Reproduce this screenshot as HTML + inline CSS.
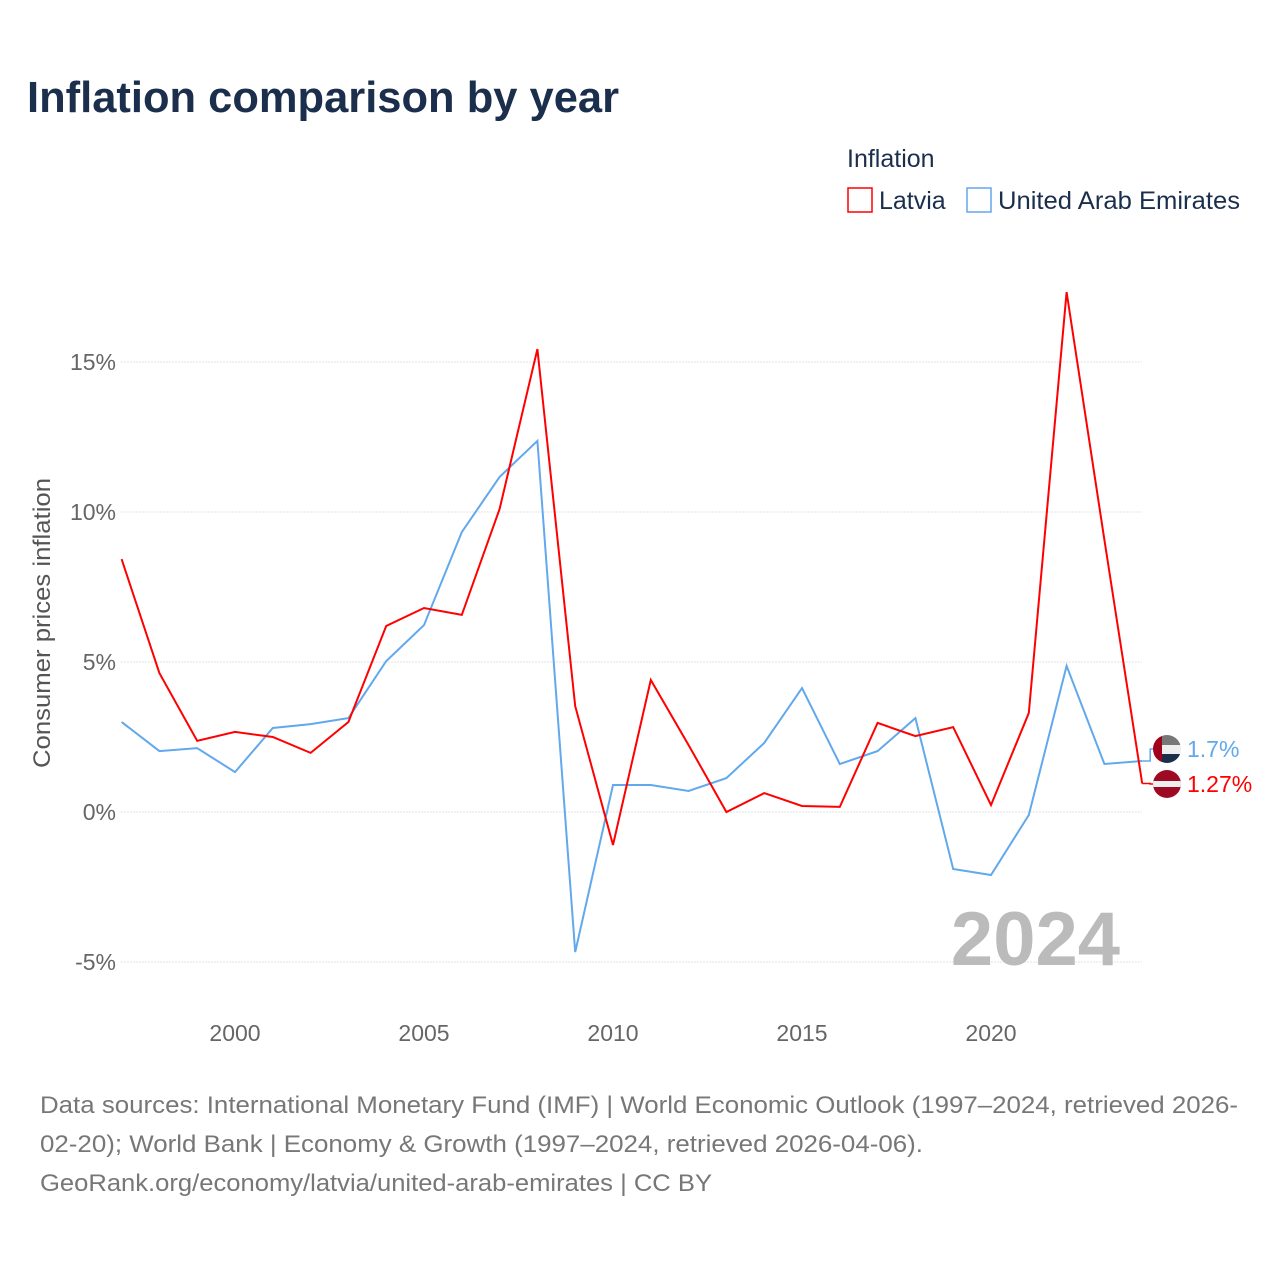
<!DOCTYPE html>
<html><head><meta charset="utf-8"><style>
body{margin:0;background:#fff;font-family:"Liberation Sans",sans-serif;}
</style></head><body>
<svg id="chart" width="1280" height="1280" viewBox="0 0 1280 1280" xmlns="http://www.w3.org/2000/svg" font-family="Liberation Sans, sans-serif">
<rect width="1280" height="1280" fill="#fff"/>
<text x="27" y="112" font-size="44" font-weight="bold" fill="#1b2f4d" textLength="592" lengthAdjust="spacingAndGlyphs">Inflation comparison by year</text>
<text x="847" y="167" font-size="25" fill="#1b2f4d">Inflation</text>
<g><rect x="848" y="188" width="24" height="24" fill="none" stroke="#f00" stroke-width="1.5"/><text x="879" y="209" font-size="25" fill="#1b2f4d">Latvia</text></g>
<g><rect x="967" y="188" width="24" height="24" fill="none" stroke="#61a8ec" stroke-width="1.5"/><text x="998" y="209" font-size="25" fill="#1b2f4d" textLength="242" lengthAdjust="spacingAndGlyphs">United Arab Emirates</text></g>
<text transform="translate(50,623) rotate(-90)" text-anchor="middle" font-size="24" fill="#555" textLength="290" lengthAdjust="spacingAndGlyphs">Consumer prices inflation</text>
<g id="grid"></g><g id="lines"></g>
<text x="1120" y="965" text-anchor="end" font-size="76" font-weight="bold" fill="#bbb">2024</text>
<g><clipPath id="c1"><circle cx="1167" cy="749" r="14"/></clipPath><g clip-path="url(#c1)"><rect x="1153" y="735" width="28" height="10" fill="#777"/><rect x="1153" y="745" width="28" height="9" fill="#eee"/><rect x="1153" y="754" width="28" height="10" fill="#1b2f4d"/><rect x="1153" y="735" width="9" height="28" fill="#a3001c"/></g></g>
<g><clipPath id="c2"><circle cx="1167" cy="784" r="14"/></clipPath><g clip-path="url(#c2)"><rect x="1153" y="770" width="28" height="28" fill="#9e0a24"/><rect x="1153" y="781" width="28" height="6" fill="#eee"/></g></g>
<text x="1187" y="757" font-size="23" fill="#61a8ec">1.7%</text>
<text x="1187" y="792" font-size="23" fill="#f00">1.27%</text>
<g font-size="24" fill="#777">
<text x="40" y="1113" textLength="1198" lengthAdjust="spacingAndGlyphs">Data sources: International Monetary Fund (IMF) | World Economic Outlook (1997–2024, retrieved 2026-</text>
<text x="40" y="1152" textLength="883" lengthAdjust="spacingAndGlyphs">02-20); World Bank | Economy &amp; Growth (1997–2024, retrieved 2026-04-06).</text>
<text x="40" y="1191" textLength="672" lengthAdjust="spacingAndGlyphs">GeoRank.org/economy/latvia/united-arab-emirates | CC BY</text></g>
</svg>
<script>
const years=[1997,1998,1999,2000,2001,2002,2003,2004,2005,2006,2007,2008,2009,2010,2011,2012,2013,2014,2015,2016,2017,2018,2019,2020,2021,2022,2023,2024];
const latvia=[8.43,4.63,2.37,2.67,2.5,1.97,3.0,6.2,6.8,6.57,10.1,15.43,3.53,-1.1,4.4,2.23,0,0.63,0.2,0.17,2.97,2.53,2.83,0.23,3.3,17.33,9.07,0.95];
const uae=[3.0,2.03,2.13,1.33,2.8,2.93,3.13,5.03,6.23,9.33,11.17,12.37,-4.67,0.9,0.9,0.7,1.13,2.3,4.13,1.6,2.03,3.13,-1.9,-2.1,-0.1,4.87,1.6,1.7];
const yTicks=[-5,0,5,10,15];
const xTicks=[2000,2005,2010,2015,2020];
const NS='http://www.w3.org/2000/svg';
const X=y=>121.6+(y-1997)*37.8;
const Y=v=>812-v*30;
const grid=document.getElementById('grid'),lines=document.getElementById('lines');
function mk(t,a,p){const e=document.createElementNS(NS,t);for(const k in a)e.setAttribute(k,a[k]);p.appendChild(e);return e;}
yTicks.forEach(v=>{const l=mk('line',{x1:121,x2:1142,y1:Y(v),y2:Y(v),stroke:'#e3e3e3','stroke-dasharray':'2,1'},grid);


const t=mk('text',{x:116,y:Y(v)+8,'text-anchor':'end','font-size':23,fill:'#666'},grid);t.textContent=v+'%';

});
xTicks.forEach(v=>{const t=mk('text',{x:X(v),y:1041,'text-anchor':'middle','font-size':23,fill:'#666'},grid);t.textContent=v;

});
function line(d,c,n){const p=mk('path',{d:d.map((v,i)=>(i?'L':'M')+X(years[i])+','+Y(v)).join(''),fill:'none',stroke:c,'stroke-width':2},lines);

}
line(uae,'#61a8ec','line-uae');
line(latvia,'#f00','line-latvia');
const last=years.length-1;
const c1=mk('path',{d:`M${X(years[last])},${Y(uae[last])}h8V749h6`,fill:'none',stroke:'#61a8ec','stroke-width':1.5},lines);


const c2=mk('path',{d:`M${X(years[last])},${Y(latvia[last])}h8V784h6`,fill:'none',stroke:'#f00','stroke-width':1.5},lines);


</script>
</body></html>
